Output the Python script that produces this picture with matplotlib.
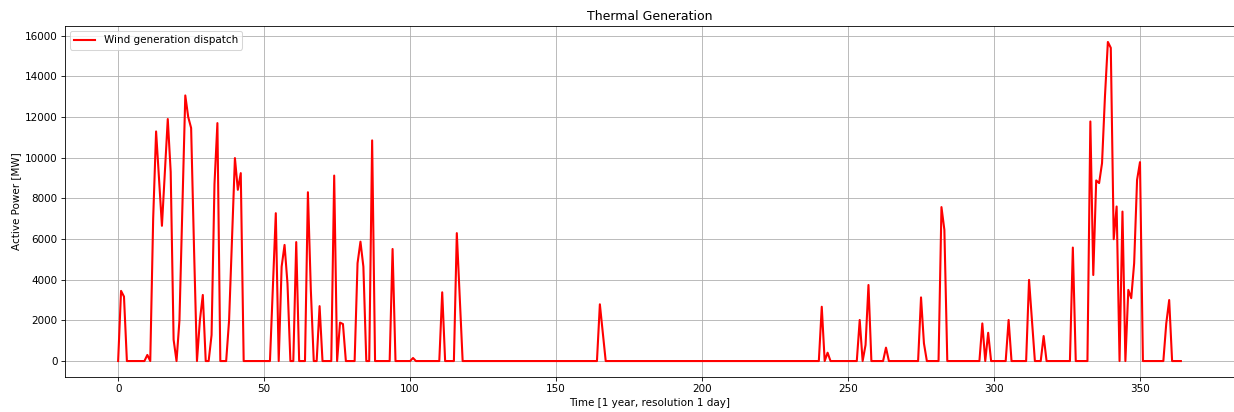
import numpy as np
import matplotlib
matplotlib.use("Agg")
import matplotlib.pyplot as plt

# Number of days in the year (0..364)
n_days = 365

# Days with non-zero wind dispatch and their values [MW]; all other days are 0
dispatch_days = [1, 2, 10, 12, 13, 14, 15, 16, 17, 18, 19, 21, 22, 23, 24, 25, 26,
                 28, 29, 32, 33, 34, 38, 39, 40, 41, 42, 53, 54, 56, 57, 58, 61,
                 65, 66, 69, 74, 76, 77, 82, 83, 84, 87, 94, 101, 111, 116, 117,
                 165, 166, 241, 243, 254, 256, 257, 263, 275, 276, 282, 283,
                 296, 298, 305, 312, 313, 317, 327, 333, 334, 335, 336, 337,
                 338, 339, 340, 341, 342, 344, 346, 347, 348, 349, 350, 359, 360]
dispatch_mw = [3450, 3170, 300, 7000, 11290, 9000, 6650, 9300, 11900, 9300, 1050,
               2000, 7500, 13060, 12000, 11460, 5500,
               2000, 3250, 1280, 8700, 11700, 2000, 6000, 9980, 8420, 9240,
               3600, 7270, 4640, 5710, 3820, 5850,
               8300, 3500, 2700, 9120, 1890, 1820, 4810, 5870, 4640, 10850,
               5510, 150, 3380, 6290, 3100,
               2790, 1400, 2670, 410, 2020, 790, 3740, 660, 3130, 870, 7570, 6450,
               1850, 1390, 2020, 3990, 2000, 1230, 5580, 11780, 4230, 8880, 8750,
               9730, 13010, 15690, 15400, 5990, 7600, 7350, 3500, 3090, 4810,
               8910, 9780, 1850, 3000]

days = np.arange(n_days)
wind = np.zeros(n_days)
wind[dispatch_days] = dispatch_mw

DPI = 75
W, H = 1235, 412
fig = plt.figure(figsize=(W / DPI, H / DPI), dpi=DPI)
ax = fig.add_axes([65 / W, 1 - 377 / H, (1234 - 65) / W, (377 - 26) / H])

ax.plot(days, wind, color="red", linewidth=2, label="Wind generation dispatch")
ax.set_title("Thermal Generation")
ax.set_xlabel("Time [1 year, resolution 1 day]")
ax.set_ylabel("Active Power [MW]")
ax.grid(True)
ax.legend(loc="upper left")

fig.savefig("out.png", dpi=DPI)
